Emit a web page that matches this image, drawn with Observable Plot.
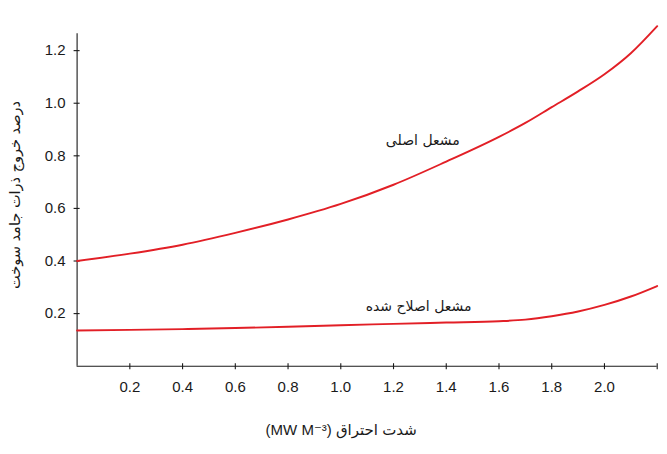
<!DOCTYPE html>
<html>
<head>
<meta charset="utf-8">
<script src="https://cdn.jsdelivr.net/npm/d3@7"></script>
<script src="https://cdn.jsdelivr.net/npm/@observablehq/plot@0.6"></script>
<style>
  html, body { margin: 0; padding: 0; background: #fff; }
  #chart svg { display: block; }
</style>
</head>
<body>
<div id="chart"></div>
<script>
// Combustion intensity (MW m^-3)
const intensity = [0, 0.2, 0.4, 0.6, 0.8, 1.0, 1.2, 1.4, 1.6, 1.7, 1.8, 1.9, 2.0, 2.1, 2.2];
// Original burner
const originalBurner = [0.400, 0.428, 0.462, 0.507, 0.558, 0.617, 0.690, 0.778, 0.872, 0.925, 0.985, 1.045, 1.110, 1.190, 1.293];
// Modified burner
const modifiedBurner = [0.136, 0.138, 0.141, 0.145, 0.150, 0.156, 0.161, 0.166, 0.171, 0.177, 0.190, 0.208, 0.233, 0.265, 0.305];

const seriesNames = ["مشعل اصلی", "مشعل اصلاح شده"];
const labelX = [1.311, 1.295];
const labelY = [0.858, 0.227];

const xTicks = [0.2, 0.4, 0.6, 0.8, 1.0, 1.2, 1.4, 1.6, 1.8, 2.0];
const xTickMarks = [0.2, 0.4, 0.6, 0.8, 1.0, 1.2, 1.4, 1.6, 1.8, 2.0, 2.2];
const yTicks = [0.2, 0.4, 0.6, 0.8, 1.0, 1.2];

const xTitle = "(MW M⁻³) شدت احتراق";
const yTitle = "درصد خروج ذرات جامد سوخت";

const rows = [];
intensity.forEach((x, i) => {
  rows.push({x, y: originalBurner[i], s: seriesNames[0]});
  rows.push({x, y: modifiedBurner[i], s: seriesNames[1]});
});
const labels = seriesNames.map((name, i) => ({name, x: labelX[i], y: labelY[i]}));

const red = "#e21f26";
const ink = "#1a1a1a";
const latin = "'Liberation Sans', Arial, 'DejaVu Sans', sans-serif";
const persian = "'DejaVu Sans', sans-serif";

const chart = Plot.plot({
  width: 667,
  height: 454,
  marginLeft: 76.6,
  marginRight: 10.3,
  marginTop: 33.3,
  marginBottom: 88.3,
  style: {background: "#fff", fontFamily: latin, color: ink},
  x: {domain: [0, 2.2]},
  y: {domain: [0, 1.264]},
  marks: [
    Plot.ruleX([0], {stroke: ink, strokeWidth: 1.1}),
    Plot.ruleY([0], {stroke: ink, strokeWidth: 1.1}),
    // x tick marks crossing the axis
    Plot.axisX({ticks: xTickMarks, tickSize: 6, dy: -2.5, tickFormat: () => "", stroke: ink, strokeWidth: 1.1, label: null}),
    // x tick labels
    Plot.axisX({ticks: xTicks, tickSize: 0, tickPadding: 15, tickFormat: d3.format(".1f"), fontSize: 15, fill: ink, label: null}),
    // y tick marks crossing the axis
    Plot.axisY({ticks: yTicks, tickSize: 6, dx: 3, tickFormat: () => "", stroke: ink, strokeWidth: 1.1, label: null}),
    // y tick labels
    Plot.axisY({ticks: yTicks, tickSize: 0, tickPadding: 11.5, tickFormat: d3.format(".1f"), fontSize: 15, fill: ink, label: null}),
    Plot.line(rows, {x: "x", y: "y", z: "s", stroke: red, strokeWidth: 1.9, curve: "monotone-x"}),
    Plot.text(labels, {x: "x", y: "y", text: "name", fontSize: 14, fontFamily: persian, fill: ink}),
    Plot.text([xTitle], {frameAnchor: "bottom", textAnchor: "middle", dx: -26, dy: 69, fontSize: 15, fontFamily: latin, fill: ink}),
    Plot.text([yTitle], {frameAnchor: "left", textAnchor: "middle", rotate: -90, dx: -61.6, dy: -5, fontSize: 14.5, fontFamily: persian, fill: ink, style: "word-spacing:4px"})
  ]
});
document.getElementById("chart").appendChild(chart);
</script>
</body>
</html>
